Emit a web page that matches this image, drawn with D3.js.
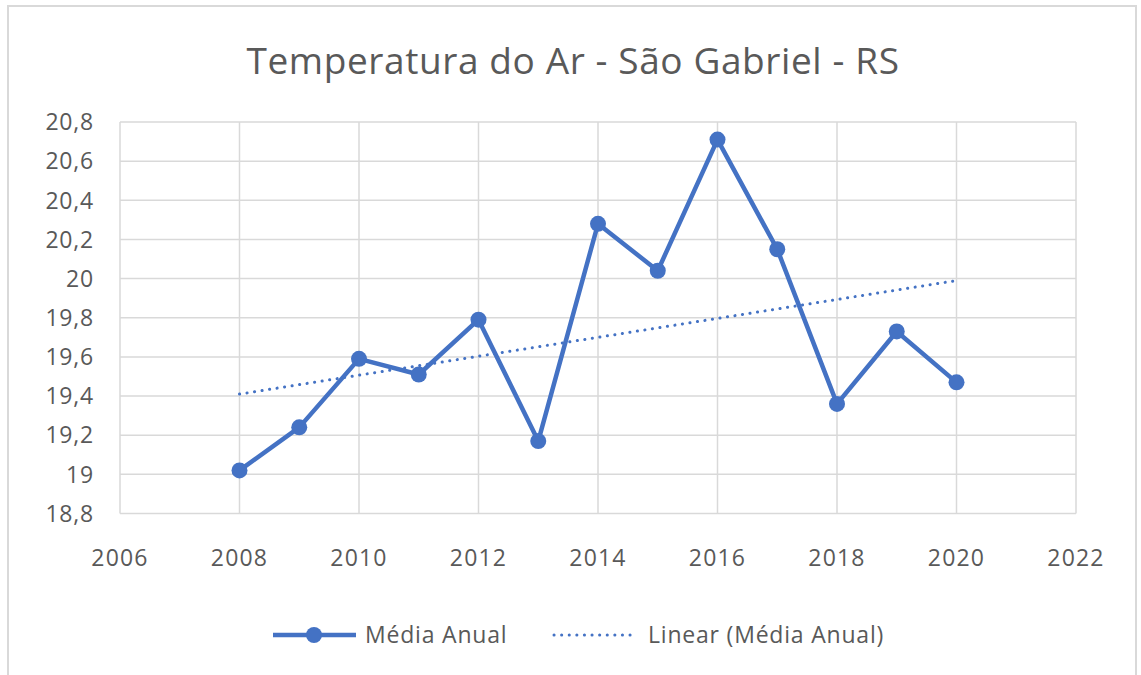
<!DOCTYPE html>
<html lang="pt">
<head>
    <meta charset="UTF-8">
    <title>Temperatura do Ar - São Gabriel - RS</title>
    <script src="https://d3js.org/d3.v7.min.js"></script>
    <style>
        body { margin: 0; background: #fff; }
        text { font-family: "Open Sans", "Noto Sans", sans-serif; fill: #595959; }
        .grid line { stroke: #d9d9d9; stroke-width: 1.5; }
    </style>
</head>
<body>
<svg width="1141" height="675"></svg>
<script>
    // dados
    const years = [2008, 2009, 2010, 2011, 2012, 2013, 2014, 2015, 2016, 2017, 2018, 2019, 2020];
    const mediaAnual = [19.02, 19.24, 19.59, 19.51, 19.79, 19.17, 20.28, 20.04, 20.71, 20.15, 19.36, 19.73, 19.47];
    const trendYears = [2008, 2020];
    const trendValues = [19.41, 19.99];
    const xTicks = [2006, 2008, 2010, 2012, 2014, 2016, 2018, 2020, 2022];
    const yTicks = [18.8, 19, 19.2, 19.4, 19.6, 19.8, 20, 20.2, 20.4, 20.6, 20.8];

    const blue = "#4472c4";
    const svg = d3.select("svg");

    // moldura
    svg.append("rect")
        .attr("x", 8).attr("y", 6)
        .attr("width", 1128).attr("height", 680)
        .attr("fill", "none")
        .attr("stroke", "#d9d9d9")
        .attr("stroke-width", 2);

    const x = d3.scaleLinear().domain([2006, 2022]).range([120, 1076]);
    const y = d3.scaleLinear().domain([18.8, 20.8]).range([513.5, 122]);

    const grid = svg.append("g").attr("class", "grid");
    grid.selectAll(".h").data(yTicks).enter().append("line")
        .attr("x1", x(2006)).attr("x2", x(2022))
        .attr("y1", d => y(d)).attr("y2", d => y(d));
    grid.selectAll(".v").data(xTicks).enter().append("line")
        .attr("x1", d => x(d)).attr("x2", d => x(d))
        .attr("y1", y(18.8)).attr("y2", y(20.8));

    const fmt = d => d3.format(".1f")(d).replace(/\.0$/, "").replace(".", ",");

    svg.append("g").selectAll("text").data(yTicks).enter().append("text")
        .attr("x", 94)
        .attr("y", d => y(d))
        .attr("dy", "0.36em")
        .attr("text-anchor", "end")
        .attr("font-size", 23)
        .attr("letter-spacing", 0.8)
        .text(fmt);

    svg.append("g").selectAll("text").data(xTicks).enter().append("text")
        .attr("x", d => x(d))
        .attr("y", 566)
        .attr("text-anchor", "middle")
        .attr("font-size", 23)
        .attr("letter-spacing", 1.2)
        .text(d => d);

    // título
    svg.append("text")
        .attr("x", 573).attr("y", 74)
        .attr("text-anchor", "middle")
        .attr("font-size", 37)
        .attr("letter-spacing", 0.6)
        .text("Temperatura do Ar - São Gabriel - RS");

    // tendência linear
    const trend = trendYears.map((d, i) => [d, trendValues[i]]);
    svg.append("path")
        .datum(trend)
        .attr("d", d3.line().x(d => x(d[0])).y(d => y(d[1])))
        .attr("fill", "none")
        .attr("stroke", blue)
        .attr("stroke-width", 3)
        .attr("stroke-linecap", "round")
        .attr("stroke-dasharray", "0.1 7.5");

    // série
    const pts = years.map((d, i) => [d, mediaAnual[i]]);
    svg.append("path")
        .datum(pts)
        .attr("d", d3.line().x(d => x(d[0])).y(d => y(d[1])))
        .attr("fill", "none")
        .attr("stroke", blue)
        .attr("stroke-width", 4.5)
        .attr("stroke-linejoin", "round");

    svg.append("g").selectAll("circle").data(pts).enter().append("circle")
        .attr("cx", d => x(d[0]))
        .attr("cy", d => y(d[1]))
        .attr("r", 8)
        .attr("fill", blue);

    // legenda
    const leg = svg.append("g");
    leg.append("line")
        .attr("x1", 273).attr("x2", 356).attr("y1", 635).attr("y2", 635)
        .attr("stroke", blue).attr("stroke-width", 4.5);
    leg.append("circle").attr("cx", 314).attr("cy", 635).attr("r", 8).attr("fill", blue);
    leg.append("text").attr("x", 365).attr("y", 635).attr("dy", "0.36em")
        .attr("font-size", 23).attr("letter-spacing", 0.8).text("Média Anual");
    leg.append("line")
        .attr("x1", 554).attr("x2", 632).attr("y1", 635).attr("y2", 635)
        .attr("stroke", blue).attr("stroke-width", 3)
        .attr("stroke-linecap", "round")
        .attr("stroke-dasharray", "0.1 7.5");
    leg.append("text").attr("x", 648).attr("y", 635).attr("dy", "0.36em")
        .attr("font-size", 23).attr("letter-spacing", 0.8).text("Linear (Média Anual)");
</script>
</body>
</html>
